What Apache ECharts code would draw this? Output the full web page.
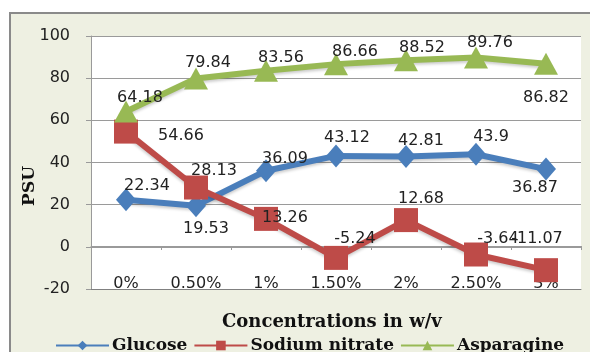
<!DOCTYPE html>
<html>
<head>
<meta charset="utf-8">
<title>PSU</title>
<style>
  html, body { margin: 0; padding: 0; background: #fff; }
  #main { width: 590px; height: 352px; }
</style>
</head>
<body>
<div id="main"></div>
<script src="https://cdn.jsdelivr.net/npm/echarts@6/dist/echarts.min.js"></script>
<script>
var categories = ['0%', '0.50%', '1%', '1.50%', '2%', '2.50%', '3%'];
var glucose = [22.34, 19.53, 36.09, 43.12, 42.81, 43.9, 36.87];
var sodiumNitrate = [54.66, 28.13, 13.26, -5.24, 12.68, -3.64, -11.07];
var asparagine = [64.18, 79.84, 83.56, 86.66, 88.52, 89.76, 86.82];
var yTicks = { min: -20, max: 100, step: 20 };

// where each data label sits relative to its point (px)
var glucoseLabelPos = [[21, -14], [10, 23], [19, -12], [11, -18], [15, -16], [15, -17], [-11, 19]];
var sodiumLabelPos = [[55, 4], [18, -17], [19, -1], [19, -19], [15, -21], [22, -16], [-9, -31]];
var asparagineLabelPos = [[14, -14], [12, -16], [15, -13], [19, -12], [16, -12], [14, -15], [0, 34]];

var numFont = 'DejaVu Sans';
var titleFont = 'DejaVu Serif';
var axisGrey = '#9a9a9a';

function withLabels(values, offsets) {
    return values.map(function (v, i) {
        return { value: v, label: { offset: offsets[i] } };
    });
}

function makeSeries(name, values, offsets, color, symbol, size) {
    return {
        name: name,
        type: 'line',
        xAxisIndex: 0,
        data: withLabels(values, offsets),
        symbol: symbol,
        symbolSize: size,
        showAllSymbol: true,
        itemStyle: { color: color },
        lineStyle: {
            color: color,
            width: 6,
            shadowColor: 'rgba(0,0,0,0.2)',
            shadowBlur: 3,
            shadowOffsetY: 2
        },
        label: {
            show: true,
            position: 'inside',
            color: '#222',
            fontFamily: numFont,
            fontSize: 16,
            formatter: function (p) { return String(p.value); }
        },
        emphasis: { disabled: true },
        animation: false
    };
}

var chart = echarts.init(document.getElementById('main'));

chart.setOption({
    backgroundColor: '#fff',
    animation: false,
    graphic: [
        {
            type: 'rect',
            z: -10,
            shape: { x: 10, y: 13, width: 600, height: 400 },
            style: { fill: '#eef0e2', stroke: '#8a8a8a', lineWidth: 2 }
        },
        {
            type: 'text',
            left: 21,
            top: 166,
            rotation: Math.PI / 2,
            style: {
                text: 'PSU',
                font: 'bold 17px "' + titleFont + '"',
                fill: '#111'
            }
        },
        {
            type: 'text',
            left: 222,
            top: 313,
            style: {
                text: 'Concentrations in w/v',
                font: 'bold 18px "' + titleFont + '"',
                fill: '#111'
            }
        }
    ],
    grid: {
        left: 91,
        right: 9,
        top: 36,
        bottom: 63,
        show: true,
        backgroundColor: '#fff',
        borderWidth: 0
    },
    legend: {
        left: 50,
        top: 332,
        itemWidth: 53,
        itemHeight: 12,
        itemGap: 6,
        textStyle: {
            fontFamily: titleFont,
            fontWeight: 'bold',
            fontSize: 17,
            color: '#111',
            padding: [0, 0, 0, -2]
        },
        data: ['Glucose', 'Sodium nitrate', 'Asparagine']
    },
    xAxis: [
        {
            // labels sit on the bottom edge
            type: 'category',
            data: categories,
            position: 'bottom',
            axisLine: { onZero: false, lineStyle: { color: '#808080', width: 1 } },
            axisTick: { show: false },
            axisLabel: {
                inside: true,
                margin: -3,
                interval: 0,
                showMinLabel: true,
                showMaxLabel: true,
                hideOverlap: false,
                color: '#222',
                fontFamily: numFont,
                fontSize: 16
            },
            splitLine: { show: false }
        },
        {
            // the zero line with its tick marks
            type: 'category',
            data: categories,
            position: 'bottom',
            offset: -43,
            axisLine: { onZero: false, lineStyle: { color: axisGrey, width: 1 } },
            axisTick: { show: true, length: 4, lineStyle: { color: axisGrey } },
            axisLabel: { show: false },
            splitLine: { show: false }
        }
    ],
    yAxis: {
        type: 'value',
        min: yTicks.min,
        max: yTicks.max,
        interval: yTicks.step,
        axisLine: { show: true, lineStyle: { color: axisGrey } },
        axisTick: { show: true, length: 5, lineStyle: { color: axisGrey } },
        axisLabel: {
            margin: 21,
            color: '#222',
            fontFamily: numFont,
            fontSize: 16
        },
        splitLine: { show: true, lineStyle: { color: axisGrey, width: 1 } }
    },
    series: [
        makeSeries('Glucose', glucose, glucoseLabelPos, '#4a7ebb', 'diamond', [20, 23]),
        makeSeries('Sodium nitrate', sodiumNitrate, sodiumLabelPos, '#be4b48', 'rect', 24),
        makeSeries('Asparagine', asparagine, asparagineLabelPos, '#98b954', 'triangle', [24, 22])
    ]
});
</script>
</body>
</html>
